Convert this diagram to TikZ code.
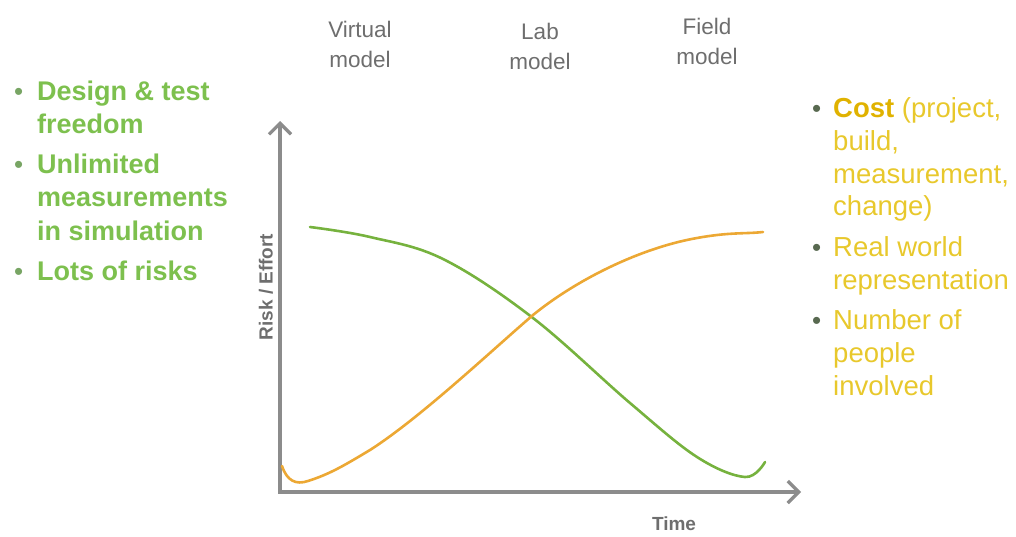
\documentclass[tikz,border=0pt]{standalone}
\usepackage{fontspec}
\setmainfont{Liberation Sans}
\usetikzlibrary{arrows.meta}
\definecolor{leftgreen}{RGB}{125,192,78}
\definecolor{bulgreen}{RGB}{120,165,100}
\definecolor{curvegreen}{RGB}{118,178,62}
\definecolor{curveorange}{RGB}{236,168,52}
\definecolor{rightyellow}{RGB}{232,200,44}
\definecolor{costyellow}{RGB}{224,178,0}
\definecolor{bulldark}{RGB}{88,105,80}
\definecolor{labelgray}{RGB}{110,110,110}
\definecolor{axisgray}{RGB}{140,140,140}
\tikzset{
  lefttext/.style={anchor=base west, inner sep=0pt, text=leftgreen,
    font=\fontsize{27}{30}\selectfont\bfseries},
  righttext/.style={anchor=base west, inner sep=0pt, text=rightyellow,
    font=\fontsize{27.5}{30}\selectfont},
  leftbullet/.style={anchor=base west, inner sep=0pt, text=bulgreen,
    font=\fontsize{26}{30}\selectfont},
  rightbullet/.style={anchor=base west, inner sep=0pt, text=bulldark,
    font=\fontsize{26}{30}\selectfont},
  stage/.style={align=center, inner sep=0pt, text=labelgray,
    font=\fontsize{22.5}{30}\selectfont},
  axis/.style={draw=axisgray, line width=3.2pt,
    -{Straight Barb[length=11pt,width=22pt,line width=3.2pt]}},
  axislabel/.style={inner sep=0pt, text=labelgray,
    font=\fontsize{19}{22}\selectfont\bfseries},
  curve/.style={line width=2.6pt, line cap=round, line join=round}
}
\begin{document}
\begin{tikzpicture}[x=1pt,y=-1pt]
\useasboundingbox (0,0) rectangle (1016,536);

% development stages along the top
\node[stage] (virt)  at (360,44) {Virtual\\model};
\node[stage] (lab)   at (540,46) {Lab\\model};
\node[stage] (field) at (707,41) {Field\\model};

% left column: advantages of early (virtual) work
\node[leftbullet] (bl1) at (14,100) {•};
\node[lefttext]   (l1)  at (37,100) {Design \& test};
\node[lefttext]   (l2)  at (37,133) {freedom};
\node[leftbullet] (bl2) at (14,173) {•};
\node[lefttext]   (l3)  at (37,173) {Unlimited};
\node[lefttext]   (l4)  at (37,206) {measurements};
\node[lefttext]   (l5)  at (37,240) {in simulation};
\node[leftbullet] (bl3) at (14,280) {•};
\node[lefttext]   (l6)  at (37,280) {Lots of risks};

% right column: what grows towards the field model
\node[rightbullet] (br1) at (812,117) {•};
\node[righttext]   (r1)  at (833,117) {\textcolor{costyellow}{\bfseries Cost} (project,};
\node[righttext]   (r2)  at (833,150) {build,};
\node[righttext]   (r3)  at (833,183) {measurement,};
\node[righttext]   (r4)  at (833,215) {change)};
\node[rightbullet] (br2) at (812,256) {•};
\node[righttext]   (r5)  at (833,256) {Real world};
\node[righttext]   (r6)  at (833,289) {representation};
\node[rightbullet] (br3) at (812,329) {•};
\node[righttext]   (r7)  at (833,329) {Number of};
\node[righttext]   (r8)  at (833,362) {people};
\node[righttext]   (r9)  at (833,395) {involved};

% axes
\coordinate (origin) at (280,492);
\coordinate (ytip)   at (280,121);
\coordinate (xtip)   at (801,492);
\draw[axis] (origin) -- (ytip);
\draw[axis] ([xshift=-1.6pt]origin) -- (xtip);
\node[axislabel, rotate=90] (ylab) at (266,287) {Risk / Effort};
\node[axislabel] (xlab) at (674,524) {Time};

% risk falls over time
\draw[curve, curvegreen] plot[smooth, tension=0.6] coordinates {
  (310,227) (370,237) (443,259) (533,318) (630,403) (697,457)
  (745,477) (765,462)};

% effort / cost rises over time
\draw[curve, curveorange]
  (282,466) .. controls (287,481) and (296,485) .. (308,481)
            .. controls (330,474) and (345,465) .. (370,450)
            .. controls (420,418) and (490,352) .. (533,315)
            .. controls (576,280) and (640,248) .. (697,238)
            .. controls (730,232) and (745,234) .. (763,232);
\end{tikzpicture}
\end{document}
